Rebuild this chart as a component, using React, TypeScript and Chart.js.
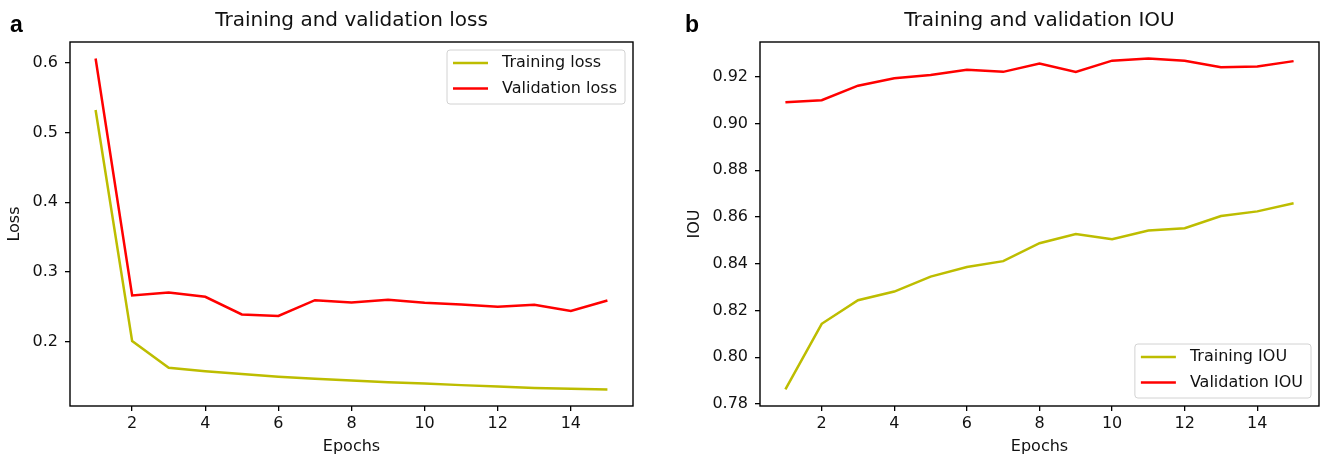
import React, { useEffect, useRef } from "react";
import { Chart, registerables } from "chart.js";

Chart.register(...registerables);

// ---------- data ----------
const epochs = [1, 2, 3, 4, 5, 6, 7, 8, 9, 10, 11, 12, 13, 14, 15];
const trainingLoss = [0.532, 0.201, 0.163, 0.158, 0.154, 0.150, 0.147, 0.1445, 0.142, 0.1405, 0.138, 0.136, 0.134, 0.1327, 0.1318];
const validationLoss = [0.6057, 0.2664, 0.2707, 0.2645, 0.2393, 0.2370, 0.2597, 0.2564, 0.2602, 0.2559, 0.2535, 0.2502, 0.2531, 0.2441, 0.2592];
const trainingIou = [0.7862, 0.8143, 0.8244, 0.8281, 0.8345, 0.8386, 0.8411, 0.8488, 0.8527, 0.8505, 0.8542, 0.8552, 0.8604, 0.8624, 0.8659];
const validationIou = [0.9091, 0.9100, 0.9162, 0.9194, 0.9208, 0.9230, 0.9221, 0.9257, 0.9221, 0.9269, 0.9278, 0.9269, 0.9241, 0.9244, 0.9267];
const epochTicks = [2, 4, 6, 8, 10, 12, 14];
const lossTicks = [0.2, 0.3, 0.4, 0.5, 0.6];
const iouTicks = [0.78, 0.8, 0.82, 0.84, 0.86, 0.88, 0.9, 0.92];

const OLIVE = "#bdbd00";
const RED = "#ff0000";
const FONT = "'DejaVu Sans', 'Noto Sans', sans-serif";
const TEXT = "#111";

// matplotlib-like 5% margins
function withMargin(vals: number[]) {
  const lo = Math.min(...vals);
  const hi = Math.max(...vals);
  const m = (hi - lo) * 0.05;
  return [lo - m, hi + m];
}

type Series = { label: string; data: number[]; color: string };
type PanelCfg = {
  letter: string;
  title: string;
  yLabel: string;
  series: Series[];
  yTicks: number[];
  yDigits: number;
  legendCorner: "tr" | "br";
  left: number;
  width: number;
  yAxisWidth: number;
  padRight: number;
  letterX: number;
  yLabelX: number;
};

const panels: PanelCfg[] = [
  {
    letter: "a",
    title: "Training and validation loss",
    yLabel: "Loss",
    series: [
      { label: "Training loss", data: trainingLoss, color: OLIVE },
      { label: "Validation loss", data: validationLoss, color: RED },
    ],
    yTicks: lossTicks,
    yDigits: 1,
    legendCorner: "tr",
    left: 0,
    width: 660,
    yAxisWidth: 70,
    padRight: 27,
    letterX: 10,
    yLabelX: 15,
  },
  {
    letter: "b",
    title: "Training and validation IOU",
    yLabel: "IOU",
    series: [
      { label: "Training IOU", data: trainingIou, color: OLIVE },
      { label: "Validation IOU", data: validationIou, color: RED },
    ],
    yTicks: iouTicks,
    yDigits: 2,
    legendCorner: "br",
    left: 660,
    width: 665,
    yAxisWidth: 100,
    padRight: 6,
    letterX: 25,
    yLabelX: 35,
  },
];

function makeDecor(cfg: PanelCfg) {
  return {
    id: "decor-" + cfg.letter,
    afterDraw(chart: any) {
      const { ctx, chartArea } = chart;
      const { left, right, top, bottom } = chartArea;
      ctx.save();
      // axes box
      ctx.strokeStyle = "#000";
      ctx.lineWidth = 1.4;
      ctx.strokeRect(left, top, right - left, bottom - top);

      // panel letter
      ctx.fillStyle = "#000";
      ctx.font = "bold 23px 'Liberation Sans', Arial, sans-serif";
      ctx.textAlign = "left";
      ctx.textBaseline = "alphabetic";
      ctx.fillText(cfg.letter, cfg.letterX, 32);

      // title
      ctx.fillStyle = TEXT;
      ctx.font = "20px " + FONT;
      ctx.textAlign = "center";
      ctx.textBaseline = "middle";
      ctx.fillText(cfg.title, (left + right) / 2, 21);

      // x label
      ctx.font = "16px " + FONT;
      ctx.fillText("Epochs", (left + right) / 2, 447);

      // y label
      ctx.save();
      ctx.translate(cfg.yLabelX, (top + bottom) / 2);
      ctx.rotate(-Math.PI / 2);
      ctx.fillText(cfg.yLabel, 0, 0);
      ctx.restore();

      // legend
      ctx.font = "16px " + FONT;
      const tw = Math.max(...cfg.series.map((s) => ctx.measureText(s.label).width));
      const bw = 6 + 35 + 14 + tw + 8;
      const bh = 54;
      const bx = right - 8 - bw;
      const by = cfg.legendCorner === "tr" ? top + 8 : bottom - 8 - bh;
      ctx.beginPath();
      if ((ctx as any).roundRect) (ctx as any).roundRect(bx, by, bw, bh, 3);
      else ctx.rect(bx, by, bw, bh);
      ctx.fillStyle = "rgba(255,255,255,0.85)";
      ctx.fill();
      ctx.strokeStyle = "#d2d2d2";
      ctx.lineWidth = 1;
      ctx.stroke();
      cfg.series.forEach((s, i) => {
        const cy = by + 13 + i * 25.6;
        ctx.strokeStyle = s.color;
        ctx.lineWidth = 2.5;
        ctx.beginPath();
        ctx.moveTo(bx + 6, cy);
        ctx.lineTo(bx + 41, cy);
        ctx.stroke();
        ctx.fillStyle = TEXT;
        ctx.textAlign = "left";
        ctx.textBaseline = "middle";
        ctx.fillText(s.label, bx + 55, cy);
      });
      ctx.restore();
    },
  };
}

function Panel({ cfg }: { cfg: PanelCfg }) {
  const ref = useRef<HTMLCanvasElement>(null);
  useEffect(() => {
    const all: number[] = [];
    cfg.series.forEach((s) => all.push(...s.data));
    const [ymin, ymax] = withMargin(all);
    const [xmin, xmax] = withMargin(epochs);
    const tickFont = { family: FONT, size: 16 };
    const chart = new Chart(ref.current as HTMLCanvasElement, {
      type: "line",
      data: {
        datasets: cfg.series.map((s) => ({
          label: s.label,
          data: epochs.map((e, i) => ({ x: e, y: s.data[i] })),
          borderColor: s.color,
          backgroundColor: s.color,
          borderWidth: 2.5,
          pointRadius: 0,
          tension: 0,
          fill: false,
        })),
      },
      options: {
        animation: false,
        responsive: false,
        maintainAspectRatio: false,
        layout: { padding: { left: 0, top: 42, right: cfg.padRight, bottom: 0 } },
        plugins: {
          legend: { display: false },
          title: { display: false },
          tooltip: { enabled: false },
        },
        scales: {
          x: {
            type: "linear",
            min: xmin,
            max: xmax,
            afterBuildTicks: (axis: any) => {
              axis.ticks = epochTicks.map((v) => ({ value: v }));
            },
            afterFit: (axis: any) => {
              axis.height = 53;
            },
            grid: {
              display: true,
              drawOnChartArea: false,
              drawTicks: true,
              tickLength: 5,
              lineWidth: 1.3,
              color: "#000",
              tickColor: "#000",
            },
            border: { display: false },
            ticks: {
              color: TEXT,
              font: tickFont,
              padding: 3,
              maxRotation: 0,
              autoSkip: false,
              callback: (v: any) => String(v),
            },
          },
          y: {
            type: "linear",
            min: ymin,
            max: ymax,
            afterBuildTicks: (axis: any) => {
              axis.ticks = cfg.yTicks.map((v) => ({ value: v }));
            },
            afterFit: (axis: any) => {
              axis.width = cfg.yAxisWidth;
            },
            grid: {
              display: true,
              drawOnChartArea: false,
              drawTicks: true,
              tickLength: 5,
              lineWidth: 1.3,
              color: "#000",
              tickColor: "#000",
            },
            border: { display: false },
            ticks: {
              color: TEXT,
              font: tickFont,
              padding: 7,
              autoSkip: false,
              callback: (v: any) => Number(v).toFixed(cfg.yDigits),
            },
          },
        },
      },
      plugins: [makeDecor(cfg)],
    } as any);
    return () => chart.destroy();
  }, [cfg]);
  return (
    <canvas
      ref={ref}
      width={cfg.width}
      height={459}
      style={{ position: "absolute", left: cfg.left, top: 0, width: cfg.width, height: 459 }}
    />
  );
}

export default function App() {
  return (
    <div
      style={{
        position: "absolute",
        left: 0,
        top: 0,
        width: 1325,
        height: 459,
        background: "#fff",
        overflow: "hidden",
      }}
    >
      {panels.map((p) => (
        <Panel key={p.letter} cfg={p} />
      ))}
    </div>
  );
}
